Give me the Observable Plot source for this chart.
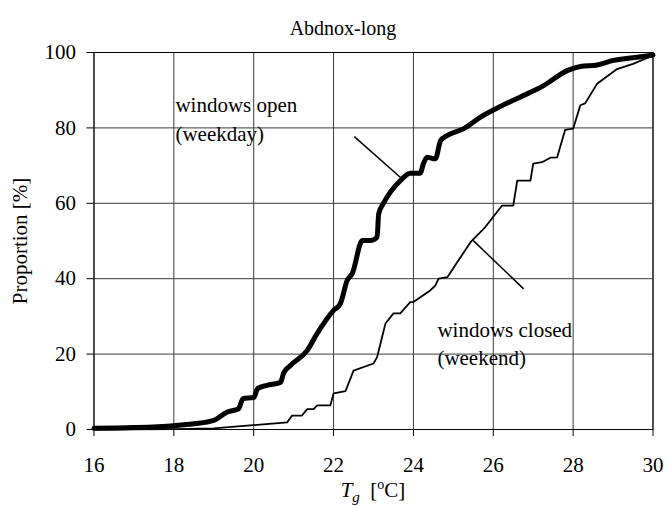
<!DOCTYPE html>
<html><head><meta charset="utf-8">
<script src="https://cdn.jsdelivr.net/npm/d3@7"></script>
<script src="https://cdn.jsdelivr.net/npm/@observablehq/plot@0.6"></script>
<style>
body{margin:0;background:#fff}
#title{width:667px;height:40px;position:relative;font-size:20px;color:#000}
#title span{position:absolute;left:0;width:667px;padding-left:19px;box-sizing:border-box;text-align:center;top:16px;line-height:24px}
</style>
</head><body>
<div id="title"><span></span></div>
<div id="chart"></div>
<script>
const title = "Abdnox-long";
const yLabel = "Proportion [%]";
const xTicks = [16, 18, 20, 22, 24, 26, 28, 30];
const yTicks = [0, 20, 40, 60, 80, 100];

// windows open (weekday)
const openX = [16, 17, 18, 18.5, 19.0, 19.33, 19.62, 19.73, 20.0, 20.1, 20.33, 20.67, 20.75, 20.92, 21.34, 21.59, 22.0, 22.17, 22.34, 22.47, 22.72, 22.92, 23.09, 23.13, 23.25, 23.67, 23.92, 24.17, 24.25, 24.34, 24.55, 24.68, 24.85, 25.26, 25.67, 26.2, 26.68, 27.26, 27.85, 28.18, 28.6, 29.01, 29.5, 30];
const openY = [0.3, 0.5, 1.0, 1.5, 2.4, 4.6, 5.5, 8.2, 8.5, 10.9, 11.7, 12.5, 15, 17, 21, 25.5, 31.6, 33.4, 39.5, 41.4, 50.1, 50.1, 51, 57.2, 60, 66, 68, 68, 70.5, 72.2, 71.8, 76.6, 78, 79.8, 82.8, 85.8, 88.2, 91.2, 95.2, 96.3, 96.7, 97.9, 98.6, 99.3];

// windows closed (weekend)
const closedX = [16, 18, 19.0, 20.84, 20.96, 21.21, 21.34, 21.5, 21.59, 21.92, 22.0, 22.3, 22.5, 23.0, 23.09, 23.3, 23.5, 23.67, 23.92, 24.0, 24.42, 24.55, 24.63, 24.85, 25.1, 25.43, 25.8, 26.22, 26.5, 26.6, 26.93, 27.0, 27.22, 27.43, 27.6, 27.8, 28.0, 28.18, 28.3, 28.6, 29.1, 29.5, 30];
const closedY = [0, 0.1, 0.3, 1.9, 3.7, 3.7, 5.4, 5.4, 6.4, 6.4, 9.6, 10.2, 15.6, 17.5, 19.2, 28.1, 30.8, 30.8, 33.8, 33.8, 36.9, 38.2, 40, 40.4, 44.4, 49.7, 53.7, 59.4, 59.4, 66, 66, 70.5, 70.9, 72.1, 72.2, 79.5, 79.8, 86, 86.5, 91.7, 95.6, 97, 99.2];

// annotations
const labelText = ["windows open", "(weekday)", "windows closed", "(weekend)"];
const labelX = [18.04, 18.04, 24.6, 24.6];
const labelY = [85.9, 78.2, 26.4, 18.8];
const leaderX1 = [22.52, 25.5];
const leaderY1 = [77.7, 50.1];
const leaderX2 = [23.69, 26.76];
const leaderY2 = [66.7, 37.3];

const openData = openX.map((x, i) => ({x, y: openY[i]}));
const closedData = closedX.map((x, i) => ({x, y: closedY[i]}));
const labels = labelText.map((t, i) => ({t, x: labelX[i], y: labelY[i]}));
const leaders = leaderX1.map((x1, i) => ({x1, y1: leaderY1[i], x2: leaderX2[i], y2: leaderY2[i]}));

const FONT = "Liberation Serif, Times New Roman, Tinos, Times, Nimbus Roman, FreeSerif, DejaVu Serif, serif";
const titleSpan = document.querySelector("#title span");
titleSpan.textContent = title;
titleSpan.style.fontFamily = FONT;

const chart = Plot.plot({
  width: 667, height: 466,
  marginLeft: 93.5, marginRight: 14.5, marginTop: 12, marginBottom: 77,
  x: {domain: [16, 30]},
  y: {domain: [0, 100]},
  marks: [
    Plot.gridX(xTicks, {stroke: "#3a3a3a", strokeOpacity: 1, strokeWidth: 1}),
    Plot.gridY(yTicks, {stroke: "#3a3a3a", strokeOpacity: 1, strokeWidth: 1}),
    Plot.frame({stroke: "#000", strokeWidth: 1}),
    Plot.axisX(xTicks, {tickSize: 7, tickPadding: 21, fontSize: 21, fontFamily: FONT, label: null, stroke: "#000"}),
    Plot.axisY(yTicks, {tickSize: 7, tickPadding: 11, fontSize: 21, fontFamily: FONT, label: yLabel, labelAnchor: "center", labelOffset: 82, labelArrow: "none", stroke: "#000"}),
    Plot.line(closedData, {x: "x", y: "y", stroke: "#000", strokeWidth: 1.8}),
    Plot.line(openData, {x: "x", y: "y", stroke: "#000", strokeWidth: 5, curve: "monotone-x"}),
    Plot.link(leaders, {x1: "x1", y1: "y1", x2: "x2", y2: "y2", stroke: "#000", strokeWidth: 1.5}),
    Plot.text(labels, {x: "x", y: "y", text: "t", textAnchor: "start", lineAnchor: "middle", fontSize: 21, fontFamily: FONT, fill: "#000"})
  ]
});
document.getElementById("chart").appendChild(chart);

// x-axis label with italic/sub/superscript
const svg = d3.select(chart);
const xl = svg.append("text")
  .attr("x", 373).attr("y", 457)
  .attr("text-anchor", "middle")
  .attr("font-size", 21).attr("fill", "#000");
xl.append("tspan").attr("font-style", "italic").text("T");
xl.append("tspan").attr("font-style", "italic").attr("font-size", 15).attr("dy", 5).text("g");
xl.append("tspan").attr("dy", -5).text("\u00a0\u00a0[");
xl.append("tspan").attr("font-size", 14).attr("dy", -8).text("o");
xl.append("tspan").attr("dy", 8).text("C]");
svg.selectAll("text").style("font-family", FONT);
</script>
</body></html>
